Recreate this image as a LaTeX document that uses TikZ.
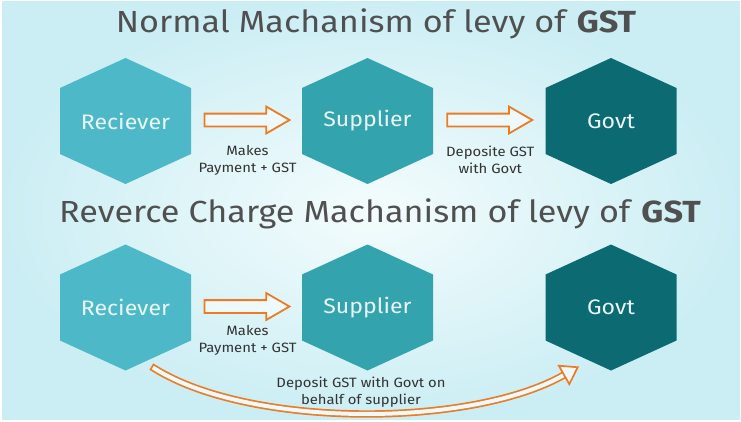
\documentclass[tikz,border=0pt]{standalone}
\usepackage{fontspec}
\setmainfont{Fira Sans}[FakeStretch=1.1]
\newfontfamily\titlefont{Fira Sans}[FakeStretch=1.12]
\usetikzlibrary{positioning,calc,shapes.arrows,arrows.meta}

\definecolor{rcvcol}{HTML}{4DB9C8}
\definecolor{supcol}{HTML}{33A3AD}
\definecolor{govcol}{HTML}{0B6A72}
\definecolor{hextext}{HTML}{EAF7F8}
\definecolor{arrcol}{HTML}{EE7B22}
\definecolor{labcol}{HTML}{333333}
\definecolor{titlecol}{HTML}{505050}
\definecolor{bgin}{HTML}{F4FCFD}
\definecolor{bgout}{HTML}{CBEEF4}
\definecolor{arrfill}{HTML}{EDF9FB}

\tikzset{
  hexnode/.style={minimum width=131pt, minimum height=126pt, inner sep=0pt,
    text=hextext, font=\fontsize{21}{24}\selectfont,
    path picture={\fill[#1] (path picture bounding box.north) -- ++(65.5pt,-30pt)
      -- ++(0pt,-66pt) -- ++(-65.5pt,-30pt) -- ++(-65.5pt,30pt) -- ++(0pt,66pt) -- cycle;}},
  blockarrow/.style={single arrow, draw=arrcol, fill=arrfill, line width=1.8pt,
    minimum height=85pt, inner xsep=0pt, inner ysep=5.5pt,
    single arrow head extend=7pt, single arrow tip angle=60},
  curvearrow/.style={draw=arrcol, double=arrfill, double distance=4pt, line width=1.7pt,
    line cap=rect, -{Triangle[fill=arrfill, line width=1.7pt, length=18pt, width=24pt]}},
  steplabel/.style={text=labcol, align=center, inner sep=0pt, font=\fontsize{13.5}{17}\selectfont},
  titletext/.style={text=titlecol, anchor=base, font=\titlefont\fontsize{30.5}{32}\selectfont}
}

\begin{document}
\begin{tikzpicture}[x=1pt, y=-1pt]
  \useasboundingbox (0,0) rectangle (741,421);
  \fill[white] (0,0) rectangle (741,421);
  \shade[inner color=bgin, outer color=bgout] (2,1) rectangle (740,419);

  % titles
  \node[titletext] (tnormal) at (376,32) {Normal Machanism of levy of \textbf{GST}};
  \node[titletext] (treverse) at (380,222) {Reverce Charge Machanism of levy of \textbf{GST}};

  % normal mechanism
  \node[hexnode=rcvcol] (rcv1) at (125.5,121) {Reciever};
  \node[hexnode=supcol] (sup1) at (367.5,121) {Supplier};
  \node[hexnode=govcol] (gov1) at (611,121) {Govt};
  \node[blockarrow] (pay1) at ($(rcv1)!0.5!(sup1)+(-5,-1)$) {};
  \node[blockarrow] (dep1) at ($(sup1)!0.5!(gov1)+(-5,-1)$) {};
  \node[steplabel] (paylab1) at ($(pay1)+(6,40)$) {Makes\\Payment + GST};
  \node[steplabel] (deplab1) at ($(dep1)+(6,40)$) {Deposite GST\\with Govt};

  % reverse charge mechanism
  \node[hexnode=rcvcol] (rcv2) at (125.5,307.5) {Reciever};
  \node[hexnode=supcol] (sup2) at (367.5,307.5) {Supplier};
  \node[hexnode=govcol] (gov2) at (611,307.5) {Govt};
  \node[blockarrow] (pay2) at ($(rcv2)!0.5!(sup2)+(-5,-1)$) {};
  \node[steplabel] (paylab2) at ($(pay2)+(6,34)$) {Makes\\Payment + GST};

  \coordinate (tail) at ($(rcv2)+(29,61)$);
  \coordinate (tip) at ($(gov2)+(-32,59)$);
  \draw[curvearrow] (tail) .. controls (250,428) and (470,428) .. (tip);
  \node[steplabel] (deplab2) at (361,392) {Deposit GST with Govt on\\behalf of supplier};
\end{tikzpicture}
\end{document}
